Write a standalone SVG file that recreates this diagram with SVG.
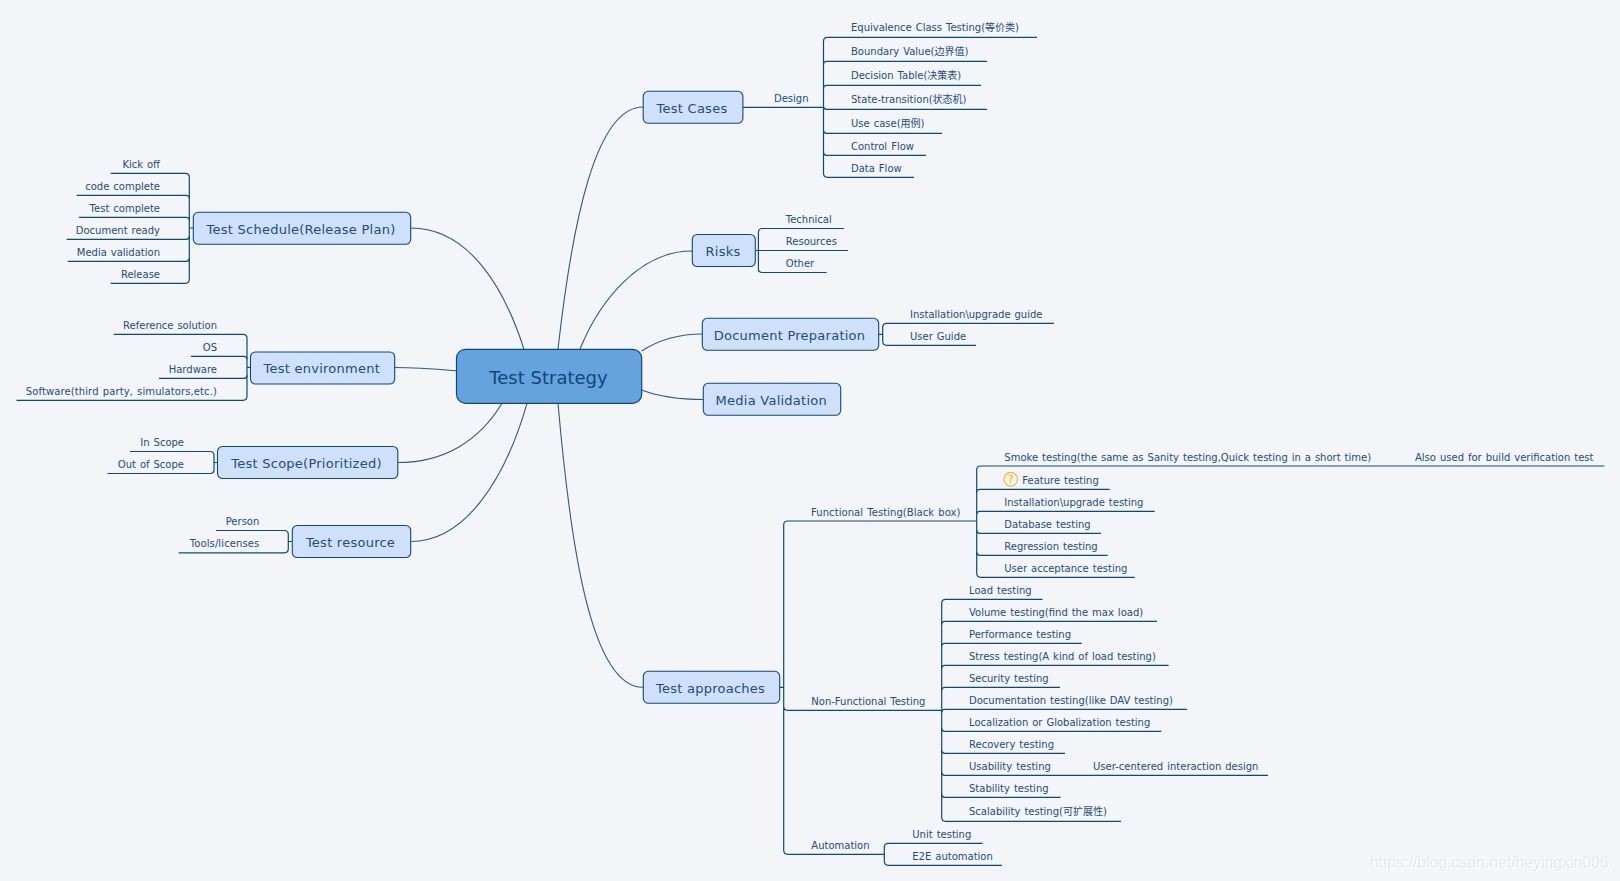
<svg xmlns="http://www.w3.org/2000/svg" width="1620" height="881" viewBox="0 0 1620 881">
<style>
text{font-family:"DejaVu Sans","Noto Sans CJK SC",sans-serif;fill:#224d7e}
.l{font-size:10px;word-spacing:.8px}
.e{text-anchor:end}
.n{font-size:13px;text-anchor:middle;letter-spacing:.25px}
.c{font-size:18px;text-anchor:middle;fill:#10457f}
.b{fill:#cfe0fb;stroke:#0c4a7c;stroke-width:1.1}
.r{fill:#66a2dd;stroke:#0c4a7c;stroke-width:1.2}
#connectors path{fill:none;stroke:#0c4a7c;stroke-width:1.2}
#connectors .m{stroke:#2f5a7e;stroke-width:1.1}
.w{font-family:"Liberation Sans",sans-serif;font-size:15.8px;fill:#e6e8ec}
</style>
<defs><filter id="s" x="-5%" y="-30%" width="110%" height="160%"><feDropShadow dx="1" dy="1" stdDeviation=".4" flood-color="#ffffff"/></filter></defs>
<rect width="1620" height="881" fill="#f3f5f9"/>
<g id="connectors">
<path class="m" d="M558 349C572 225 595 107 643 107"/>
<path class="m" d="M580 349C600 300 640 251 692 251"/>
<path class="m" d="M641.700 351C660 339 680 334 702.300 334"/>
<path class="m" d="M641.700 390C660 397 680 399.500 703.300 399.500"/>
<path class="m" d="M558 403.300C570 540 590 687.300 643 687.300"/>
<path class="m" d="M524 349.300C505 290 470 228 410.700 228"/>
<path class="m" d="M456 370.700C435 369 415 367.500 394.700 367.500"/>
<path class="m" d="M502 403.300C480 440 445 462.500 397.800 462.500"/>
<path class="m" d="M527 403.300C505 480 465 541.500 410.700 541.500"/>
<path d="M743 107.300H823.500"/>
<path d="M1037 37.300H827.500Q823.500 37.300 823.500 41.300V173.300Q823.500 177.300 827.500 177.300H914"/>
<path d="M823.500 64.300Q823.500 61.300 826.500 61.300H987M823.500 88.300Q823.500 85.300 826.500 85.300H981M823.500 106.300Q823.500 109.300 826.500 109.300H987M823.500 130.300Q823.500 133.300 826.500 133.300H942M823.500 152.300Q823.500 155.300 826.500 155.300H926"/>
<path d="M755.300 250.500H758.400M844 228.500H762.400Q758.400 228.500 758.400 232.500V268.500Q758.400 272.500 762.400 272.500H826.600M758.400 250.500H848"/>
<path d="M878.700 334.300H882.700M1054 323.300H886.700Q882.700 323.300 882.700 327.300V341.300Q882.700 345.300 886.700 345.300H976"/>
<path d="M193.300 228H189.300M110.700 173.300H185.300Q189.300 173.300 189.300 177.300V279.300Q189.300 283.300 185.300 283.300H110.700"/>
<path d="M76.700 195.300H186.300Q189.300 195.300 189.300 198.300M79 217.300H186.300Q189.300 217.300 189.300 220.300M66.700 239.300H186.300Q189.300 239.300 189.300 236.300M67.700 261.300H186.300Q189.300 261.300 189.300 258.300"/>
<path d="M250.500 367.300H247M113.700 334.300H243Q247 334.300 247 338.300V396.300Q247 400.300 243 400.300H16.500"/>
<path d="M191 356.300H244Q247 356.300 247 359.300M159 378.300H244Q247 378.300 247 375.300"/>
<path d="M217.500 462.500H214M130 451.500H210Q214 451.500 214 455.500V469.500Q214 473.500 210 473.500H107.500"/>
<path d="M291.900 541.500H288.300M216 530.500H284.300Q288.300 530.500 288.300 534.500V548.800Q288.300 552.800 284.300 552.800H178.700"/>
<path d="M779.700 687.300H783.700M976.700 521H787.700Q783.700 521 783.700 525V850.300Q783.700 854.300 787.700 854.300H884.300M783.700 706.300Q783.700 710.300 787.700 710.300H941.700"/>
<path d="M1604.500 466H980.700Q976.700 466 976.700 470V573.300Q976.700 577.300 980.700 577.300H1134.700"/>
<path d="M976.700 492.300Q976.700 489.300 979.700 489.300H1109.700M976.700 514.300Q976.700 511.300 979.700 511.300H1154.700M976.700 530.300Q976.700 533.300 979.700 533.300H1101M976.700 552.300Q976.700 555.300 979.700 555.300H1107.700"/>
<path d="M1042.500 599.300H945.700Q941.700 599.300 941.700 603.300V817.300Q941.700 821.300 945.700 821.300H1121"/>
<path d="M941.700 624.300Q941.700 621.300 944.700 621.300H1157M941.700 646.300Q941.700 643.300 944.700 643.300H1081.700M941.700 668.300Q941.700 665.300 944.700 665.300H1168.600M941.700 690.300Q941.700 687.300 944.700 687.300H1060M941.700 712.300Q941.700 709.300 944.700 709.300H1187M941.700 728.300Q941.700 731.300 944.700 731.300H1161.300M941.700 750.300Q941.700 753.300 944.700 753.300H1065M941.700 772.300Q941.700 775.300 944.700 775.300H1268M941.700 794.300Q941.700 797.300 944.700 797.300H1060.600"/>
<path d="M982.600 843.300H888.300Q884.300 843.300 884.300 847.300V861.300Q884.300 865.300 888.300 865.300H1002"/>
</g>
<g id="center"><rect class="r" x="456.500" y="349.300" width="185.200" height="54" rx="9"/><text class="c" x="548.500" y="384">Test Strategy</text></g>
<g id="test-cases"><rect class="b" x="643.200" y="91.300" width="99.700" height="32" rx="5"/><text class="n" x="692" y="113">Test Cases</text></g>
<g id="risks"><rect class="b" x="692.300" y="234.500" width="63" height="32" rx="5"/><text class="n" x="723" y="256">Risks</text></g>
<g id="doc-prep"><rect class="b" x="702.300" y="318.300" width="176.400" height="32" rx="5"/><text class="n" x="789.500" y="340">Document Preparation</text></g>
<g id="media"><rect class="b" x="703.300" y="383.300" width="137.400" height="32" rx="5"/><text class="n" x="771.300" y="405">Media Validation</text></g>
<g id="schedule"><rect class="b" x="193.300" y="212.300" width="217.400" height="32" rx="5"/><text class="n" x="301" y="234">Test Schedule(Release Plan)</text></g>
<g id="environment"><rect class="b" x="250.500" y="352" width="144.200" height="32" rx="5"/><text class="n" x="321.800" y="372.500">Test environment</text></g>
<g id="scope"><rect class="b" x="217.500" y="446.500" width="180.300" height="32" rx="5"/><text class="n" x="306.500" y="468">Test Scope(Prioritized)</text></g>
<g id="resource"><rect class="b" x="292.300" y="525.500" width="118.400" height="32" rx="5"/><text class="n" x="350.500" y="546.500">Test resource</text></g>
<g id="approaches"><rect class="b" x="643.300" y="671.300" width="136.400" height="32" rx="5"/><text class="n" x="710.500" y="693.300">Test approaches</text></g>
<g id="design" class="l"><text x="774" y="101.500">Design</text></g>
<g id="cases-leaves" class="l">
<text x="851" y="31">Equivalence Class Testing(等价类)</text>
<text x="851" y="55">Boundary Value(边界值)</text>
<text x="851" y="79">Decision Table(决策表)</text>
<text x="851" y="103">State-transition(状态机)</text>
<text x="851" y="127">Use case(用例)</text>
<text x="851" y="150">Control Flow</text>
<text x="851" y="172">Data Flow</text></g>
<g id="risk-leaves" class="l">
<text x="785.800" y="222.500">Technical</text>
<text x="785.800" y="244.500">Resources</text>
<text x="785.800" y="266.500">Other</text></g>
<g id="doc-leaves" class="l">
<text x="910" y="318">Installation\upgrade guide</text>
<text x="910" y="340">User Guide</text></g>
<g id="schedule-leaves" class="l">
<text class="e" x="160" y="167.500">Kick off</text>
<text class="e" x="160" y="189.500">code complete</text>
<text class="e" x="160" y="211.500">Test complete</text>
<text class="e" x="160" y="233.500">Document ready</text>
<text class="e" x="160" y="255.500">Media validation</text>
<text class="e" x="160" y="277.500">Release</text></g>
<g id="env-leaves" class="l">
<text class="e" x="217" y="328.500">Reference solution</text>
<text class="e" x="217" y="350.500">OS</text>
<text class="e" x="217" y="372.500">Hardware</text>
<text class="e" x="217" y="394.500" style="letter-spacing:.11px">Software(third party, simulators,etc.)</text></g>
<g id="scope-leaves" class="l">
<text class="e" x="184" y="446">In Scope</text>
<text class="e" x="184" y="468">Out of Scope</text></g>
<g id="resource-leaves" class="l">
<text class="e" x="259.300" y="525">Person</text>
<text class="e" x="259.300" y="547" style="letter-spacing:.1px">Tools/licenses</text></g>
<g id="approach-branches" class="l">
<text x="811" y="516" style="letter-spacing:.07px">Functional Testing(Black box)</text>
<text x="811.300" y="705">Non-Functional Testing</text>
<text x="811.300" y="849">Automation</text></g>
<g id="functional-leaves" class="l">
<text x="1004.300" y="461">Smoke testing(the same as Sanity testing,Quick testing in a short time)</text>
<text x="1415" y="461">Also used for build verification test</text>
<g id="feature-icon"><circle cx="1010.700" cy="479.300" r="6.800" fill="#fdf6dc" stroke="#e8bf55" stroke-width="1.300"/><text x="1010.700" y="483" text-anchor="middle" style="font-size:10px;fill:#d9a93c">?</text></g>
<text x="1022.300" y="484">Feature testing</text>
<text x="1004.300" y="505.500">Installation\upgrade testing</text>
<text x="1004.300" y="527.500">Database testing</text>
<text x="1004.300" y="549.500">Regression testing</text>
<text x="1004.300" y="571.500">User acceptance testing</text></g>
<g id="nonfunctional-leaves" class="l">
<text x="969" y="594">Load testing</text>
<text x="969" y="616">Volume testing(find the max load)</text>
<text x="969" y="638">Performance testing</text>
<text x="969" y="660">Stress testing(A kind of load testing)</text>
<text x="969" y="682">Security testing</text>
<text x="969" y="704">Documentation testing(like DAV testing)</text>
<text x="969" y="726">Localization or Globalization testing</text>
<text x="969" y="748">Recovery testing</text>
<text x="969" y="770">Usability testing</text>
<text x="1093" y="770">User-centered interaction design</text>
<text x="969" y="792">Stability testing</text>
<text x="969" y="815">Scalability testing(可扩展性)</text></g>
<g id="automation-leaves" class="l">
<text x="912.300" y="838">Unit testing</text>
<text x="912.300" y="860">E2E automation</text></g>
<text class="w" x="1370" y="868" filter="url(#s)">https://blog.csdn.net/heyingxin006</text>
</svg>
